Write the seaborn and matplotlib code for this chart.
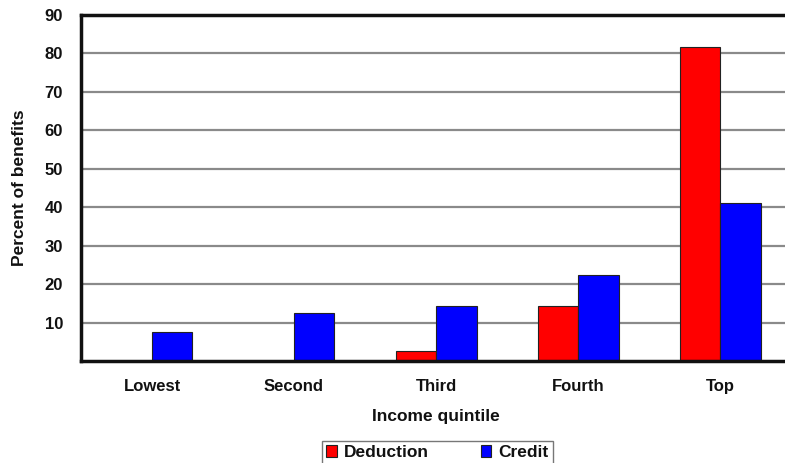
import pandas as pd
import matplotlib
matplotlib.use('Agg')
import matplotlib.pyplot as plt
import seaborn as sns

# Values
quintiles = ['Lowest', 'Second', 'Third', 'Fourth', 'Top']
deduction = [0, 0, 2.6, 14.4, 81.8]
credit = [7.6, 12.4, 14.3, 22.4, 41.2]
series = ['Deduction', 'Credit']
yticks = [10, 20, 30, 40, 50, 60, 70, 80, 90]

df = pd.DataFrame({
    'Income quintile': quintiles * 2,
    'Percent of benefits': deduction + credit,
    'Type': [series[0]] * len(quintiles) + [series[1]] * len(quintiles),
})

sns.set_theme(style='white')
plt.rcParams['font.family'] = ['Liberation Sans', 'DejaVu Sans']
plt.rcParams['font.weight'] = 'bold'
plt.rcParams['text.color'] = '#111111'
plt.rcParams['axes.labelcolor'] = '#111111'
plt.rcParams['xtick.color'] = '#111111'
plt.rcParams['ytick.color'] = '#111111'

fig = plt.figure(figsize=(7.85, 4.63), dpi=100)
# plot area runs past the right edge in the original image
ax = fig.add_axes([0.1032, 0.2203, 0.9045, 0.7473])

sns.barplot(data=df, x='Income quintile', y='Percent of benefits', hue='Type',
            palette={'Deduction': '#ff0000', 'Credit': '#0000ff'}, saturation=1,
            width=0.57, edgecolor='#222222', linewidth=0.8, ax=ax)

ax.set_ylim(0, 90)
ax.set_yticks(yticks)
ax.yaxis.grid(True, color='#8a8a8a', lw=1.6)
ax.set_axisbelow(True)
ax.tick_params(axis='both', length=0, labelsize=12)
ax.tick_params(axis='y', pad=13)
ax.tick_params(axis='x', pad=13)
for lab in ax.get_xticklabels() + ax.get_yticklabels():
    lab.set_fontweight('bold')

ax.set_xlabel('Income quintile', fontsize=12.5, fontweight='bold', labelpad=11)
ax.set_ylabel('Percent of benefits', fontsize=12.5, fontweight='bold', labelpad=13)

for side in ['left', 'bottom', 'top', 'right']:
    ax.spines[side].set_color('#111111')
    ax.spines[side].set_linewidth(2.5)

handles, labels = ax.get_legend_handles_labels()
ax.get_legend().remove()
leg = fig.legend(handles, labels, loc='upper center', bbox_to_anchor=(0.557, 0.048),
                 ncol=2, frameon=True, fancybox=False, edgecolor='#555555',
                 handlelength=0.6, handleheight=0.6, handletextpad=0.4,
                 columnspacing=3.0, borderpad=0.25, borderaxespad=0,
                 prop={'size': 12.5, 'weight': 'bold'})
leg.get_frame().set_linewidth(1.0)

fig.savefig('out.png', dpi=100)
